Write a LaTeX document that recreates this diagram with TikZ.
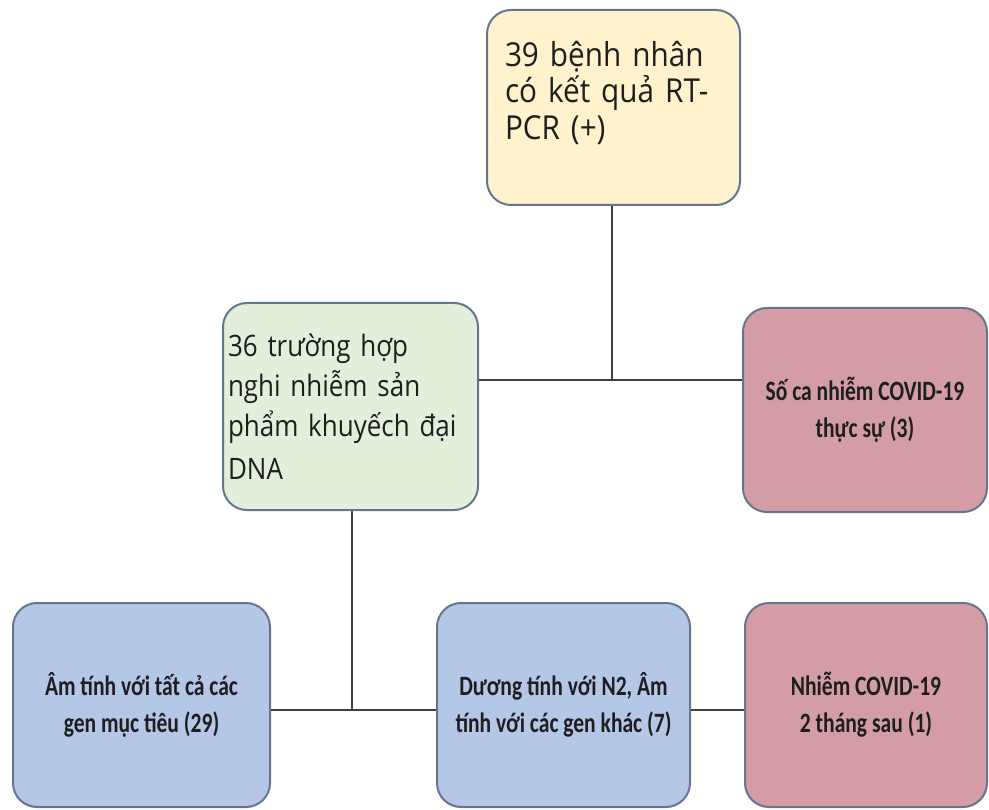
\documentclass[tikz,border=0pt]{standalone}
\usepackage{fontspec}
\setmainfont{Open Sans}
\newfontfamily\topfont[FakeStretch=0.9]{Open Sans}
\newfontfamily\grnfont[FakeStretch=0.88]{Open Sans}
\newfontfamily\boxfont[FakeStretch=0.77]{Carlito}
\definecolor{yel}{HTML}{FFF2CC}
\definecolor{grn}{HTML}{E2EFDA}
\definecolor{rd}{HTML}{D49DA5}
\definecolor{blu}{HTML}{B4C7E7}
\definecolor{edge}{HTML}{66758F}
\definecolor{lin}{HTML}{404040}
\definecolor{txt}{HTML}{1E1E1E}
\begin{document}
\begin{tikzpicture}[x=1pt,y=-1pt,
  box/.style={draw=edge, line width=2pt, rounded corners=24pt, inner sep=0pt, text=txt},
  leftbox/.style={box, align=left},
  ctrbox/.style={box, align=center, font=\boxfont\bfseries\fontsize{28}{37}\selectfont},
  conn/.style={draw=lin, line width=2pt}]
\useasboundingbox (0,0) rectangle (989,810);
\node[leftbox, fill=yel, minimum width=253pt, minimum height=195pt, text width=217pt,
  font=\topfont\fontsize{33}{36.5}\selectfont] (top) at (613.5,107.5)
  {39 bệnh nhân\\có kết quả RT-\\PCR (+)\\[-2pt]\mbox{}};
\node[leftbox, fill=grn, minimum width=255pt, minimum height=207pt, text width=245pt,
  font=\grnfont\fontsize{29.5}{40}\selectfont] (grn) at (350.5,406.5)
  {36 trường hợp\\nghi nhiễm sản\\phẩm khuyếch đại\\[3pt]DNA};
\node[ctrbox, fill=rd, minimum width=244pt, minimum height=204pt] (red1) at (865,410)
  {Số ca nhiễm COVID-19\\thực sự (3)};
\node[ctrbox, fill=blu, minimum width=257pt, minimum height=204pt] (blu1) at (141.5,705)
  {Âm tính với tất cả các\\gen mục tiêu (29)};
\node[ctrbox, fill=blu, minimum width=253pt, minimum height=204pt] (blu2) at (563.5,705)
  {Dương tính với N2, Âm\\tính với các gen khác (7)};
\node[ctrbox, fill=rd, minimum width=242pt, minimum height=204pt] (red2) at (866,705)
  {Nhiễm COVID-19\\2 tháng sau (1)};
\coordinate (j1) at (612,380);
\coordinate (j2) at (352,710);
\draw[conn] (top.south -| j1) -- (j1);
\draw[conn] (grn.east |- j1) -- (red1.west |- j1);
\draw[conn] (grn.south -| j2) -- (j2);
\draw[conn] (blu1.east |- j2) -- (blu2.west |- j2);
\draw[conn] (blu2.east |- j2) -- (red2.west |- j2);
\end{tikzpicture}
\end{document}
